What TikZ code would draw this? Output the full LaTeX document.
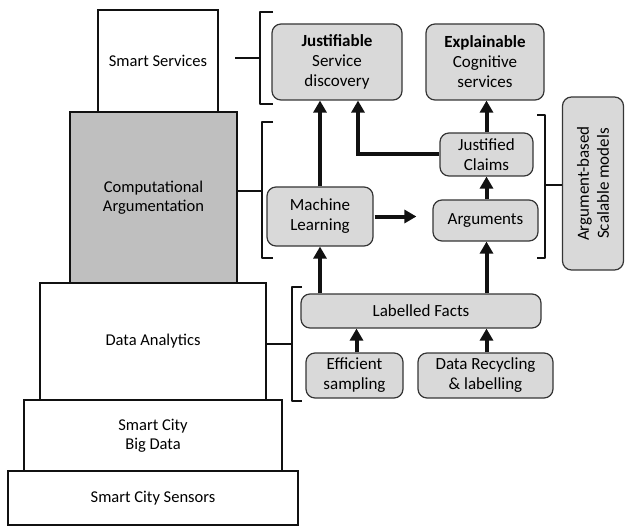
\documentclass[tikz,border=0pt]{standalone}
\usepackage{fontspec}
\usepackage{xcolor}
\setmainfont{Carlito}
\usetikzlibrary{positioning, arrows.meta, calc}
\definecolor{ink}{HTML}{111111}
\definecolor{layer}{HTML}{bfbfbf}
\definecolor{soft}{HTML}{d9d9d9}

\tikzset{
  tier/.style={draw=ink, line width=2pt, fill=white, inner sep=0pt, align=center,
               font=\fontsize{16.5}{19.5}\selectfont},
  block/.style={draw=ink!85, line width=1.2pt, fill=soft, rounded corners=9pt, inner sep=0pt,
                align=center, font=\fontsize{17}{20}\selectfont},
  flow/.style={-{Triangle[length=12pt, width=13pt]}, line width=4pt, ink},
  brace/.style={line width=2.6pt, ink, line join=round}
}

\begin{document}
\begin{tikzpicture}[x=1pt, y=-1pt]
  \useasboundingbox (0,0) rectangle (625,527);

  % layered stack on the left
  \node[tier, minimum width=290pt, minimum height=54pt] (sens) at (153,498) {Smart City Sensors};
  \node[tier, minimum width=258pt, minimum height=71pt] (bigd) at (153,435.5) {Smart City\\Big Data};
  \node[tier, minimum width=226pt, minimum height=117pt] (dana) at (153,341.5) {Data Analytics};
  \node[tier, minimum width=120pt, minimum height=102pt] (svc) at (158,61) {Smart Services};
  \node[tier, fill=layer, minimum width=167pt, minimum height=171pt] (carg) at (153.5,197.5) {Computational\\Argumentation};

  % blocks
  \node[block, minimum width=130pt, minimum height=76pt] (just) at (337,62) {\textbf{Justifiable}\\Service\\discovery};
  \node[block, minimum width=118pt, minimum height=76pt] (expl) at (485,62) {\textbf{Explainable}\\Cognitive\\services};
  \node[block, minimum width=93pt, minimum height=43pt] (jcl) at (486.5,154.5) {Justified\\Claims};
  \node[block, minimum width=106pt, minimum height=59pt] (ml) at (320,216.5) {Machine\\Learning};
  \node[block, minimum width=105pt, minimum height=41pt] (args) at (485.5,220.5) {Arguments};
  \node[block, minimum width=240pt, minimum height=34pt] (lfac) at (421,311) {Labelled Facts};
  \node[block, minimum width=97pt, minimum height=45pt] (esam) at (354.5,375.5) {Efficient\\sampling};
  \node[block, minimum width=135pt, minimum height=45pt] (drec) at (485.5,375.5) {Data Recycling\\\& labelling};
  \node[block, rotate=90, minimum width=173pt, minimum height=61pt] (abm) at (593,183.5) {Argument-based\\Scalable models};

  % arrows
  \draw[flow] (ml.north) -- (ml.north |- just.south);
  \draw[flow] (jcl.west) -| ([xshift=21pt]just.south);
  \draw[flow] (jcl.north) -- (jcl.north |- expl.south);
  \draw[flow] (args.north -| jcl) -- (jcl.south);
  \draw[flow, shorten <=1pt, shorten >=16pt] (ml.east) -- (ml.east -| args.west);
  \draw[flow] (lfac.north -| ml) -- (ml.south);
  \draw[flow] (lfac.north -| jcl) -- (args.south -| jcl);
  \draw[flow] ([xshift=2pt]esam.north) -- ([xshift=2pt]esam.north |- lfac.south);
  \draw[flow] (drec.north -| jcl) -- (lfac.south -| jcl);

  % brackets
  \draw[brace] (273,12) -- (260,12) -- (260,104) -- (273,104);
  \draw[brace] (235,58) -- (260,58);
  \draw[brace] (273,122) -- (262,122) -- (262,258) -- (273,258);
  \draw[brace] (carg.east |- 0,191) -- (262,191);
  \draw[brace] (302,287) -- (292,287) -- (292,401) -- (302,401);
  \draw[brace] (dana.east |- 0,344) -- (292,344);
  \draw[brace] (537,115) -- (545,115) -- (545,258) -- (537,258);
  \draw[brace] (545,185) -- (abm.north |- 0,185);
\end{tikzpicture}
\end{document}
